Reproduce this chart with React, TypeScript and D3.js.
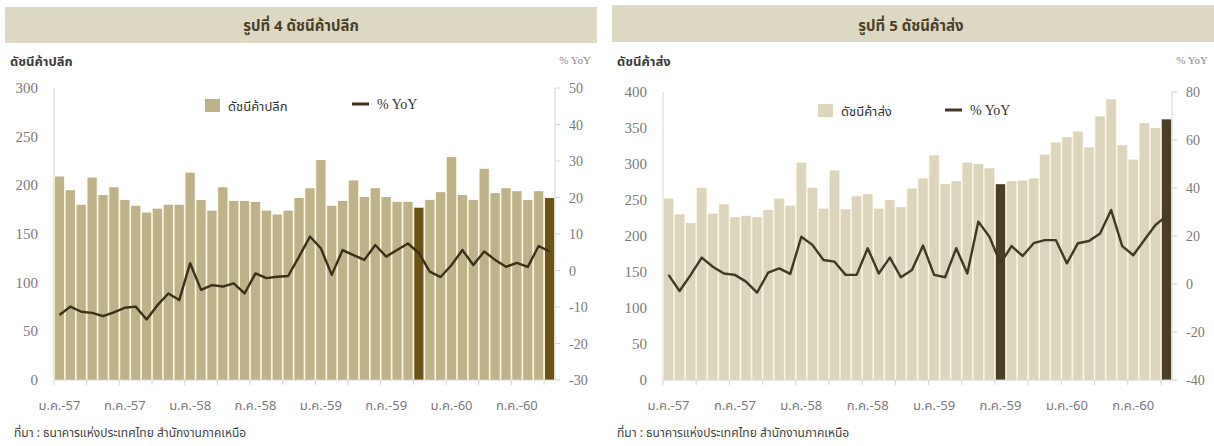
import React from "react";
import * as d3 from "d3";

const MONTHS = ["ม.ค.", "ก.พ.", "มี.ค.", "เม.ย.", "พ.ค.", "มิ.ย.", "ก.ค.", "ส.ค.", "ก.ย.", "ต.ค.", "พ.ย.", "ธ.ค."];
const YEARS = ["57", "58", "59", "60"];
const CATEGORIES: string[] = YEARS.flatMap((y) => MONTHS.map((m) => `${m}-${y}`)).slice(0, 46);

const RETAIL_INDEX = [
  209, 195, 180, 208, 190, 198, 185, 179, 172, 176, 180, 180,
  213, 185, 174, 198, 184, 184, 183, 174, 170, 174, 187, 197,
  226, 179, 184, 205, 188, 197, 188, 183, 183, 177, 185, 193,
  229, 190, 185, 217, 192, 197, 194, 185, 194, 187,
];
const RETAIL_YOY = [
  -12.2, -9.9, -11.3, -11.6, -12.5, -11.5, -10.2, -9.9, -13.4, -9.5, -6.3, -8.1,
  2.0, -5.3, -4.0, -4.4, -3.5, -6.3, -0.8, -2.1, -1.7, -1.5, 3.8, 9.3,
  6.1, -1.2, 5.6, 4.2, 2.9, 7.0, 3.8, 5.6, 7.4, 4.8, -0.3, -1.8,
  1.5, 5.6, 1.5, 5.2, 2.9, 1.0, 2.1, 1.0, 6.7, 5.2,
];
const WHOLESALE_INDEX = [
  252, 230, 218, 267, 231, 244, 226, 228, 226, 236, 252, 242,
  302, 267, 238, 291, 237, 255, 258, 238, 250, 240, 266, 280,
  312, 272, 276, 302, 300, 294, 272, 276, 277, 280, 313, 330,
  337, 345, 323, 366, 390, 326, 306, 357, 350, 362,
];
const WHOLESALE_YOY = [
  3.8, -2.9, 3.8, 11.0, 7.2, 4.4, 3.8, 1.0, -3.6, 4.7, 6.5, 4.2,
  19.7, 16.3, 10.0, 9.3, 3.8, 3.8, 14.9, 4.4, 11.0, 2.8, 5.8, 16.0,
  3.8, 2.8, 14.9, 4.4, 26.0, 19.7, 8.6, 15.8, 11.7, 17.0, 18.3, 18.3,
  8.6, 17.0, 17.9, 21.0, 30.8, 15.8, 12.0, 18.3, 24.6, 28.3,
];

const RETAIL_LEFT_TICKS = [0, 50, 100, 150, 200, 250, 300];
const RETAIL_RIGHT_TICKS = [-30, -20, -10, 0, 10, 20, 30, 40, 50];
const WHOLESALE_LEFT_TICKS = [0, 50, 100, 150, 200, 250, 300, 350, 400];
const WHOLESALE_RIGHT_TICKS = [-40, -20, 0, 20, 40, 60, 80];

const THAI = "'Noto Sans Thai', 'Leelawadee UI', Tahoma, 'DejaVu Sans', sans-serif";
const SERIF = "'Liberation Serif', 'Times New Roman', serif";

type PanelProps = {
  band: [number, number, number, number];
  title: string;
  titleX: number;
  axisTitle: string;
  axisTitleX: number;
  yoyLabelX: number;
  plot: { x0: number; x1: number; top: number; bottom: number };
  leftTicks: number[];
  rightTicks: number[];
  values: number[];
  yoy: number[];
  darkIdx: number[];
  barColor: string;
  darkColor: string;
  lineColor: string;
  legendName: string;
  legendBox: [number, number];
  legendLine: [number, number];
  sourceX: number;
};

function Panel(p: PanelProps) {
  const { x0, x1, top, bottom } = p.plot;
  const x = d3.scaleBand<number>().domain(d3.range(CATEGORIES.length)).range([x0, x1]).paddingInner(0.16).paddingOuter(0.08);
  const step = (x1 - x0) / CATEGORIES.length;
  const yL = d3.scaleLinear().domain(d3.extent(p.leftTicks) as [number, number]).range([bottom, top]);
  const yR = d3.scaleLinear().domain(d3.extent(p.rightTicks) as [number, number]).range([bottom, top]);
  const line = d3
    .line<number>()
    .x((_, i) => (x(i) as number) + x.bandwidth() / 2)
    .y((v) => yR(v))
    .curve(d3.curveLinear);
  const axisCol = "#d4d4d4";
  const tickTxt = "#7a7a7a";
  return (
    <g>
      <rect x={p.band[0]} y={p.band[1]} width={p.band[2] - p.band[0]} height={p.band[3] - p.band[1]} fill="#ddd8c3" />
      <text x={p.titleX} y={31} textAnchor="middle" fontFamily={THAI} fontSize={15} fontWeight="bold" fill="#4a4028">
        {p.title}
      </text>
      <text x={p.axisTitleX} y={66} fontFamily={THAI} fontSize={13} fontWeight="bold" fill="#3a3a3a">
        {p.axisTitle}
      </text>
      <text x={p.yoyLabelX} y={64} textAnchor="end" fontFamily={SERIF} fontSize={11} fill="#888">
        % YoY
      </text>
      {/* left axis */}
      <line x1={x0} x2={x0} y1={top} y2={bottom} stroke={axisCol} />
      {p.leftTicks.map((t) => (
        <text key={"l" + t} x={x0 - 16} y={yL(t) + 5} textAnchor="end" fontFamily={SERIF} fontSize={15} fill={tickTxt}>
          {t}
        </text>
      ))}
      {/* right axis */}
      <line x1={x1} x2={x1} y1={top} y2={bottom} stroke={axisCol} />
      {p.rightTicks.map((t) => (
        <g key={"r" + t}>
          <line x1={x1} x2={x1 + 5} y1={yR(t)} y2={yR(t)} stroke={axisCol} />
          <text x={x1 + 14} y={yR(t) + 5} fontFamily={SERIF} fontSize={14} fill={tickTxt}>
            {t}
          </text>
        </g>
      ))}
      {/* cream gaps behind bars */}
      {p.values.map((v, i) => (
        <rect key={"g" + i} x={x0 + i * step} y={yL(v)} width={step} height={yL(0) - yL(v)} fill="#f8f3d8" />
      ))}
      {/* bars */}
      {p.values.map((v, i) => (
        <rect
          key={"b" + i}
          x={x(i)}
          y={yL(v)}
          width={x.bandwidth()}
          height={yL(0) - yL(v)}
          fill={p.darkIdx.includes(i) ? p.darkColor : p.barColor}
        />
      ))}
      {/* bottom axis */}
      <line x1={x0} x2={x1} y1={bottom} y2={bottom} stroke={axisCol} />
      {d3.range(0, CATEGORIES.length + 1, 3).map((k) => (
        <line key={"t" + k} x1={x0 + k * step} x2={x0 + k * step} y1={bottom} y2={bottom + 5} stroke={axisCol} />
      ))}
      {CATEGORIES.map((c, i) =>
        i % 6 === 0 ? (
          <text key={"c" + i} x={(x(i) as number) + x.bandwidth() / 2} y={410} textAnchor="middle" fontFamily={THAI} fontSize={13} fill={tickTxt}>
            {c}
          </text>
        ) : null
      )}
      {/* line */}
      <path d={line(p.yoy) || ""} fill="none" stroke={p.lineColor} strokeWidth={2.4} strokeLinejoin="round" />
      {/* legend */}
      <rect x={p.legendBox[0]} y={p.legendBox[1]} width={15} height={13} fill={p.barColor} />
      <text x={p.legendBox[0] + 23} y={p.legendBox[1] + 12} fontFamily={THAI} fontSize={13} fill="#333">
        {p.legendName}
      </text>
      <line x1={p.legendLine[0]} x2={p.legendLine[0] + 17} y1={p.legendLine[1]} y2={p.legendLine[1]} stroke={p.lineColor} strokeWidth={3} />
      <text x={p.legendLine[0] + 25} y={p.legendLine[1] + 5} fontFamily={SERIF} fontSize={14} fill="#333">
        % YoY
      </text>
      <text x={p.sourceX} y={437} fontFamily={THAI} fontSize={12} fill="#444">
        ที่มา : ธนาคารแห่งประเทศไทย สำนักงานภาคเหนือ
      </text>
    </g>
  );
}

export default function App() {
  return (
    <div style={{ position: "fixed", left: 0, top: 0 }}>
      <svg width={1214} height={446} style={{ display: "block", background: "#fff" }}>
        <Panel
          band={[5, 7, 597, 43]}
          title="รูปที่ 4 ดัชนีค้าปลีก"
          titleX={301}
          axisTitle="ดัชนีค้าปลีก"
          axisTitleX={10}
          yoyLabelX={591}
          plot={{ x0: 54, x1: 555, top: 88, bottom: 380 }}
          leftTicks={RETAIL_LEFT_TICKS}
          rightTicks={RETAIL_RIGHT_TICKS}
          values={RETAIL_INDEX}
          yoy={RETAIL_YOY}
          darkIdx={[33, 45]}
          barColor="#bdb28a"
          darkColor="#6b5216"
          lineColor="#3a3118"
          legendName="ดัชนีค้าปลีก"
          legendBox={[205, 99]}
          legendLine={[352, 104]}
          sourceX={14}
        />
        <Panel
          band={[612, 5, 1214, 42]}
          title="รูปที่ 5 ดัชนีค้าส่ง"
          titleX={911}
          axisTitle="ดัชนีค้าส่ง"
          axisTitleX={617}
          yoyLabelX={1208}
          plot={{ x0: 663, x1: 1172, top: 92, bottom: 380 }}
          leftTicks={WHOLESALE_LEFT_TICKS}
          rightTicks={WHOLESALE_RIGHT_TICKS}
          values={WHOLESALE_INDEX}
          yoy={WHOLESALE_YOY}
          darkIdx={[30, 45]}
          barColor="#dbd5bd"
          darkColor="#4a3f26"
          lineColor="#403923"
          legendName="ดัชนีค้าส่ง"
          legendBox={[818, 104]}
          legendLine={[945, 110]}
          sourceX={617}
        />
      </svg>
    </div>
  );
}
